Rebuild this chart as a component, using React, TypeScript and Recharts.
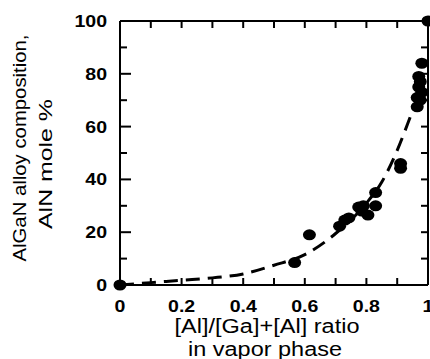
import React from "react";
import { ComposedChart, XAxis, YAxis, Scatter, Line } from "recharts";

const measuredPoints = [
  { x: 0, y: 0 },
  { x: 0.567, y: 8.5 },
  { x: 0.615, y: 19 },
  { x: 0.713, y: 22.3 },
  { x: 0.73, y: 24.6 },
  { x: 0.743, y: 25.4 },
  { x: 0.775, y: 29.5 },
  { x: 0.79, y: 30 },
  { x: 0.785, y: 28 },
  { x: 0.805, y: 26.5 },
  { x: 0.83, y: 30 },
  { x: 0.83, y: 35 },
  { x: 0.911, y: 46 },
  { x: 0.911, y: 44.2 },
  { x: 0.965, y: 67.5 },
  { x: 0.975, y: 70 },
  { x: 0.965, y: 71 },
  { x: 0.98, y: 73 },
  { x: 0.97, y: 75 },
  { x: 0.975, y: 77 },
  { x: 0.97, y: 79 },
  { x: 0.98, y: 84 },
  { x: 1, y: 100 },
];

const fitCurve = [
  { x: 0, y: 0 },
  { x: 0.1, y: 0.9 },
  { x: 0.2, y: 1.8 },
  { x: 0.3, y: 2.7 },
  { x: 0.4, y: 4.2 },
  { x: 0.5, y: 7.5 },
  { x: 0.6, y: 11.5 },
  { x: 0.7, y: 19.5 },
  { x: 0.8, y: 31 },
  { x: 0.85, y: 39 },
  { x: 0.9, y: 51 },
  { x: 0.95, y: 66 },
  { x: 0.96, y: 69 },
];

const xAllTicks = [0, 0.1, 0.2, 0.3, 0.4, 0.5, 0.6, 0.7, 0.8, 0.9, 1];
const xLabelTicks = [0, 0.2, 0.4, 0.6, 0.8, 1];
const yAllTicks = [0, 10, 20, 30, 40, 50, 60, 70, 80, 90, 100];
const yLabelTicks = [0, 20, 40, 60, 80, 100];

const X_MIN = 0;
const X_MAX = 1;
const Y_MIN = 0;
const Y_MAX = 100;

const xTitle1 = "[Al]/[Ga]+[Al] ratio";
const xTitle2 = "in vapor phase";
const yTitle1 = "AlGaN alloy composition,";
const yTitle2 = "AlN mole %";

// frame (top and right edges of the box) built from the axis domains and tick lists
const frameTop = [
  { x: X_MIN, y: Y_MAX },
  { x: X_MAX, y: Y_MAX },
];
const frameRight = [
  { x: X_MAX, y: Y_MIN },
  { x: X_MAX, y: Y_MAX },
];
const topTickPoints = xAllTicks.map((x) => ({ x, y: Y_MAX }));
const rightTickPoints = yAllTicks.map((y) => ({ x: X_MAX, y }));

const FONT = "'Liberation Sans', Arial, Helvetica, sans-serif";
const CHART_W = 430;
const CHART_H = 359;

const near = (arr: number[], v: number) => arr.some((a) => Math.abs(a - v) < 1e-6);
const fmtX = (v: number) => (Math.abs(v) < 1e-9 ? "0" : Math.abs(v - 1) < 1e-9 ? "1" : v.toFixed(1));

const BottomTick = (props: any) => {
  const { x, y, payload } = props;
  const v = payload.value;
  return (
    <g>
      <line x1={x} y1={y} x2={x} y2={y - 7} stroke="#000" strokeWidth={2} />
      {near(xLabelTicks, v) && (
        <text
          transform={`translate(${x},${y + 27}) scale(1.15,1)`}
          textAnchor="middle"
          fontFamily={FONT}
          fontWeight="bold"
          fontSize={17}
          fill="#000"
        >
          {fmtX(v)}
        </text>
      )}
    </g>
  );
};

const LeftTick = (props: any) => {
  const { x, y, payload } = props;
  const v = payload.value;
  const major = near(yLabelTicks, v);
  return (
    <g>
      <line x1={x} y1={y} x2={x + (major ? 11 : 7)} y2={y} stroke="#000" strokeWidth={2} />
      {major && (
        <text
          transform={`translate(${x - 13},${y + 6}) scale(1.15,1)`}
          textAnchor="end"
          fontFamily={FONT}
          fontWeight="bold"
          fontSize={17}
          fill="#000"
        >
          {String(v)}
        </text>
      )}
    </g>
  );
};

const TopTickShape = (props: any) => {
  const { cx, cy } = props;
  if (cx == null || cy == null) return null;
  return <line x1={cx} y1={cy} x2={cx} y2={cy + 7} stroke="#000" strokeWidth={2} />;
};

const RightTickShape = (props: any) => {
  const { cx, cy } = props;
  if (cx == null || cy == null) return null;
  return <line x1={cx} y1={cy} x2={cx - 7} y2={cy} stroke="#000" strokeWidth={2} />;
};

const XTitle = (props: any) => {
  const vb = props.viewBox;
  const cx = vb.x + vb.width / 2 - 7;
  return (
    <g fontFamily={FONT} fontSize={20} fill="#000">
      <text x={cx} y={vb.y + 48} textAnchor="middle" textLength={185} lengthAdjust="spacingAndGlyphs">
        {xTitle1}
      </text>
      <text x={cx - 2} y={vb.y + 71} textAnchor="middle" textLength={154} lengthAdjust="spacingAndGlyphs">
        {xTitle2}
      </text>
    </g>
  );
};

const YTitle = (props: any) => {
  const vb = props.viewBox;
  const cy = vb.y + vb.height / 2;
  return (
    <g fontFamily={FONT} fontSize={18} fill="#000">
      <text
        transform={`translate(26,${cy - 5}) rotate(-90)`}
        textAnchor="middle"
        textLength={227}
        lengthAdjust="spacingAndGlyphs"
      >
        {yTitle1}
      </text>
      <text
        transform={`translate(52,${cy + 11}) rotate(-90)`}
        textAnchor="middle"
        textLength={130}
        lengthAdjust="spacingAndGlyphs"
      >
        {yTitle2}
      </text>
    </g>
  );
};

const Marker = (props: any) => {
  const { cx, cy } = props;
  if (cx == null || cy == null) return null;
  return <ellipse cx={cx} cy={cy} rx={6.5} ry={5.5} fill="#000" />;
};

const frameLine = { stroke: "#000", strokeWidth: 2 };

export default function App() {
  return (
    <div style={{ position: "absolute", left: 0, top: 0, width: CHART_W, height: CHART_H }}>
      <ComposedChart width={CHART_W} height={CHART_H} margin={{ top: 21, right: 2, bottom: 0, left: 0 }}>
        <XAxis
          xAxisId="x"
          dataKey="x"
          type="number"
          domain={[X_MIN, X_MAX]}
          ticks={xAllTicks}
          height={74}
          axisLine={frameLine}
          tickLine={false}
          tickSize={0}
          tickMargin={0}
          tick={<BottomTick />}
          interval={0}
          label={(p: any) => <XTitle {...p} />}
        />
        <YAxis
          yAxisId="y"
          dataKey="y"
          type="number"
          domain={[Y_MIN, Y_MAX]}
          ticks={yAllTicks}
          width={120}
          axisLine={frameLine}
          tickLine={false}
          tickSize={0}
          tickMargin={0}
          tick={<LeftTick />}
          interval={0}
          label={(p: any) => <YTitle {...p} />}
        />
        <Line
          xAxisId="x"
          yAxisId="y"
          data={frameTop}
          dataKey="y"
          type="linear"
          stroke="#000"
          strokeWidth={2}
          dot={false}
          activeDot={false}
          isAnimationActive={false}
        />
        <Line
          xAxisId="x"
          yAxisId="y"
          data={frameRight}
          dataKey="y"
          type="linear"
          stroke="#000"
          strokeWidth={2}
          dot={false}
          activeDot={false}
          isAnimationActive={false}
        />
        <Scatter
          xAxisId="x"
          yAxisId="y"
          data={topTickPoints}
          dataKey="y"
          shape={<TopTickShape />}
          isAnimationActive={false}
        />
        <Scatter
          xAxisId="x"
          yAxisId="y"
          data={rightTickPoints}
          dataKey="y"
          shape={<RightTickShape />}
          isAnimationActive={false}
        />
        <Line
          xAxisId="x"
          yAxisId="y"
          data={fitCurve}
          dataKey="y"
          type="monotone"
          stroke="#000"
          strokeWidth={3}
          strokeDasharray="14 8"
          dot={false}
          activeDot={false}
          isAnimationActive={false}
        />
        <Scatter
          xAxisId="x"
          yAxisId="y"
          data={measuredPoints}
          dataKey="y"
          fill="#000"
          shape={<Marker />}
          isAnimationActive={false}
        />
      </ComposedChart>
    </div>
  );
}
